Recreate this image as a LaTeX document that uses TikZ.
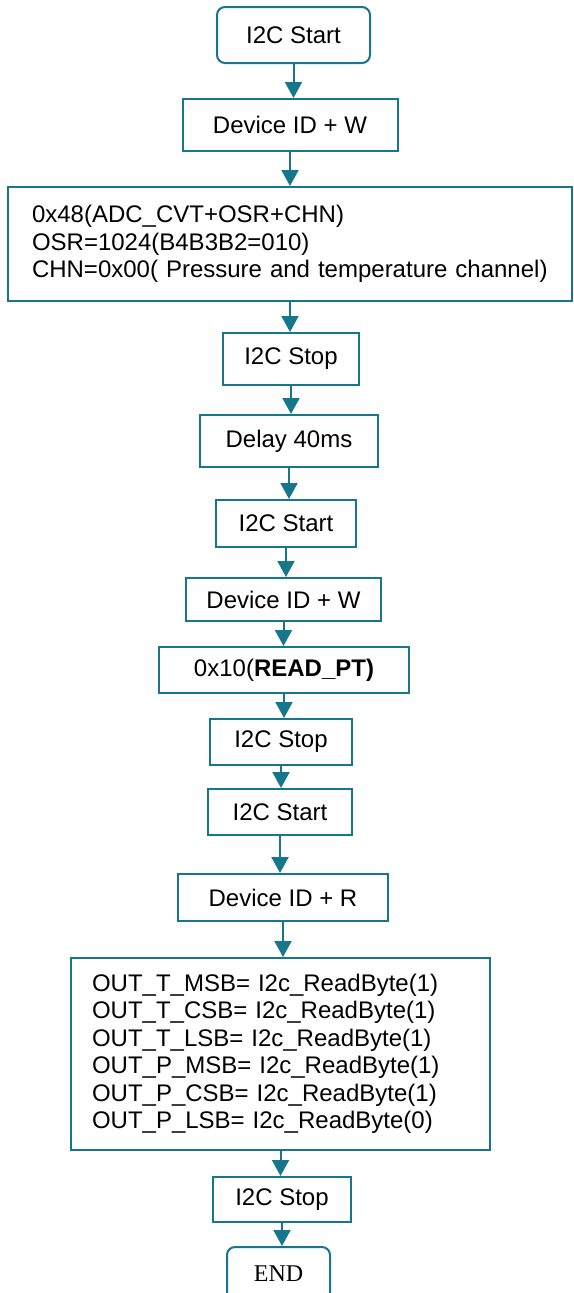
\documentclass[tikz,border=0pt]{standalone}
\usepackage{fontspec}
\setmainfont{Liberation Sans}
\newfontfamily\endfont{Liberation Serif}
\usetikzlibrary{arrows.meta}
\definecolor{flowteal}{RGB}{22,118,140}

\begin{document}
\begin{tikzpicture}[x=1pt, y=-1pt,
    box/.style={draw=flowteal, line width=2pt, inner sep=0pt, fill=white,
        font=\fontsize{24}{27.5}\selectfont},
    roundbox/.style={box, rounded corners=8pt},
    arr/.style={draw=flowteal, line width=2pt, -{Triangle[width=17pt,length=16pt]}}]
    \clip (0,0) rectangle (573,1293);
    % first write: start the conversion
    \node [roundbox, minimum width=153pt, minimum height=56pt] (start1) at (293.5,35) {I2C Start};
    \node [box, minimum width=215pt, minimum height=52pt] (dev1) at (290,125) {Device ID + W};
    \node [box, minimum width=564pt, minimum height=114pt, align=left, text width=516pt] (cmd1) at (290,244)
        {0x48(ADC\_CVT+OSR+CHN)\\OSR=1024(B4B3B2=010)\\CHN=0x00( Pressure and temperature channel)};
    \node [box, minimum width=136pt, minimum height=52pt] (stop1) at (291,359) {I2C Stop};
    \node [box, minimum width=178pt, minimum height=52pt] (delay) at (289,441) {Delay 40ms};
    % second write: ask for the result
    \node [box, minimum width=140pt, minimum height=47pt] (start2) at (286,523.5) {I2C Start};
    \node [box, minimum width=195pt, minimum height=43pt] (dev2) at (283.5,599.5) {Device ID + W};
    \node [box, minimum width=250pt, minimum height=46pt] (cmd2) at (284,670) {0x10(\textbf{READ\_PT)}};
    \node [box, minimum width=142pt, minimum height=46pt] (stop2) at (281,742) {I2C Stop};
    % read back the six bytes
    \node [box, minimum width=144pt, minimum height=46pt] (start3) at (280,812) {I2C Start};
    \node [box, minimum width=210pt, minimum height=47pt] (devR) at (283,897.5) {Device ID + R};
    \node [box, minimum width=419pt, minimum height=192pt, align=left, text width=377pt] (out) at (280.5,1054)
        {OUT\_T\_MSB= I2c\_ReadByte(1)\\OUT\_T\_CSB= I2c\_ReadByte(1)\\OUT\_T\_LSB= I2c\_ReadByte(1)\\
         OUT\_P\_MSB= I2c\_ReadByte(1)\\OUT\_P\_CSB= I2c\_ReadByte(1)\\OUT\_P\_LSB= I2c\_ReadByte(0)};
    \node [box, minimum width=138pt, minimum height=45pt] (stop3) at (282,1199.5) {I2C Stop};
    \node [roundbox, minimum width=103pt, minimum height=53pt, font=\endfont\fontsize{24}{27.5}\selectfont] (end) at (278.5,1273.5) {END};
    % arrows
    \foreach \a/\b in {start1/dev1, dev1/cmd1, cmd1/stop1, stop1/delay, delay/start2, start2/dev2,
        dev2/cmd2, cmd2/stop2, stop2/start3, start3/devR, devR/out, out/stop3, stop3/end}
        \draw [arr] (\a.south) -- (\a.south |- \b.north);
\end{tikzpicture}
\end{document}
